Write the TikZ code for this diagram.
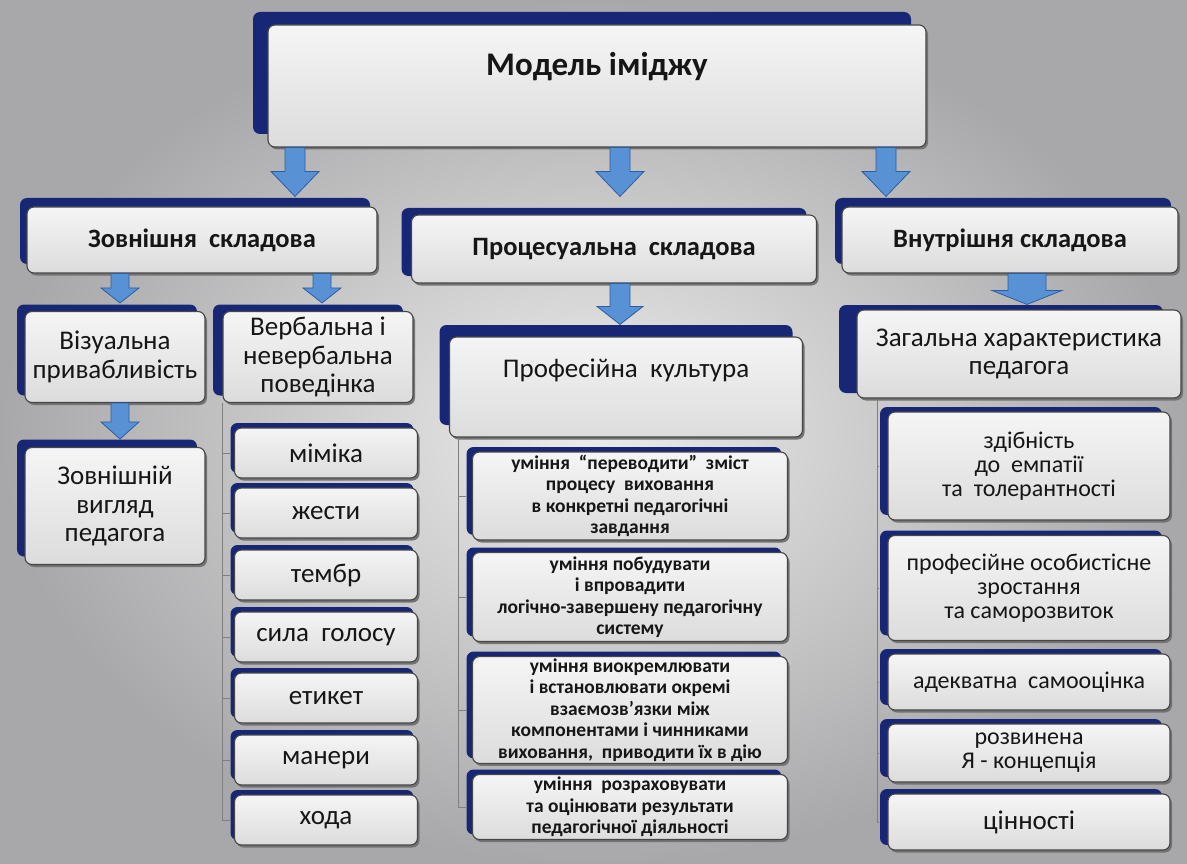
\documentclass[tikz,border=0pt]{standalone}
\usepackage{fontspec}
\setmainfont{Carlito}
\usetikzlibrary{calc,shadows}
\definecolor{navy}{RGB}{24,38,118}
\definecolor{boxtop}{RGB}{245,245,245}
\definecolor{boxbot}{RGB}{220,220,220}
\definecolor{boxline}{RGB}{70,70,70}
\definecolor{arrfill}{RGB}{88,146,212}
\definecolor{arrline}{RGB}{46,92,160}
\definecolor{bgin}{RGB}{236,236,236}
\definecolor{bgout}{RGB}{168,168,170}
\definecolor{txt}{RGB}{22,22,22}
\tikzset{
  bx/.style={draw=boxline, line width=1.1pt, rounded corners=7pt,
    top color=boxtop, bottom color=boxbot, align=center, inner sep=2pt, text=txt,
    general shadow={fill=black!55, shadow xshift=2pt, shadow yshift=-2.5pt}},
  nv/.style 2 args={general shadow={fill=navy, shadow xshift=-#1pt, shadow yshift=#2pt}},
  arr/.style={fill=arrfill, draw=arrline, line width=0.8pt, line join=miter},
  barrow/.style n args={3}{to path={let \p1=(\tikztostart), \p2=(\tikztotarget) in
    (\x1-#1,\y1) -- (\x1+#1,\y1) -- (\x1+#1,\y2+#3) -- (\x1+#2,\y2+#3) -- (\x1,\y2)
    -- (\x1-#2,\y2+#3) -- (\x1-#1,\y2+#3) -- cycle}},
  brk/.style={draw=black!50, line width=0.7pt},
  hdr/.style={font=\fontsize{26.5}{30}\selectfont\bfseries},
  mid/.style={font=\fontsize{27}{28.5}\selectfont},
  item/.style={bx, nv={4}{5}, minimum width=183pt, minimum height=50pt,
    font=\fontsize{27}{30}\selectfont},
  citem/.style={bx, nv={6}{5}, minimum width=315pt,
    font=\fontsize{19.5}{21.5}\selectfont\bfseries},
  ritem/.style={bx, nv={8}{5}, minimum width=282pt,
    font=\fontsize{24}{24}\selectfont},
}
\begin{document}
\begin{tikzpicture}[x=1pt,y=-1pt]
\useasboundingbox (0,0) rectangle (1187,864);
\fill[inner color=bgin, outer color=bgout] (0,0) rectangle (1187,864);

% top
\node[bx, nv={15}{13}, minimum width=658pt, minimum height=122pt,
  font=\fontsize{33}{38}\selectfont\bfseries, text height=22pt, text depth=42pt]
  (top) at (597,86) {Модель іміджу};

% row 2
\node[bx, nv={7}{9}, hdr, minimum width=350pt, minimum height=66pt] (zov) at (202,240) {Зовнішня\ \ складова};
\node[bx, nv={10}{7}, hdr, minimum width=405pt, minimum height=68pt] (proc) at (614,249) {Процесуальна\ \ складова};
\node[bx, nv={7}{9}, hdr, minimum width=336pt, minimum height=66pt] (vnut) at (1010,240) {Внутрішня складова};

% row 3
\node[bx, nv={8}{7}, mid, minimum width=180pt, minimum height=91pt] (viz) at (115,357) {Візуальна\\привабливість};
\node[bx, nv={10}{7}, mid, minimum width=190pt, minimum height=91pt] (verb) at (318,357) {Вербальна і\\невербальна\\поведінка};
\node[bx, nv={10}{12}, mid, minimum width=353pt, minimum height=100pt,
  text height=17pt, text depth=36pt] (prof) at (626,387) {Професійна\ \ культура};
\node[bx, nv={18}{5}, mid, minimum width=324pt, minimum height=88pt] (zag) at (1019,354) {Загальна характеристика\\педагога};

\node[bx, nv={8}{8}, mid, minimum width=180pt, minimum height=117pt] (zovn) at (115,506) {Зовнішній\\вигляд\\педагога};

% left list
\node[item] (mim) at (326,453) {міміка};
\node[item] (zhe) at (326,513) {жести};
\node[item] (tem) at (326,575) {тембр};
\node[item] (syl) at (326,637) {сила\ \ голосу};
\node[item] (ety) at (326,698) {етикет};
\node[item] (man) at (326,760) {манери};
\node[item] (hod) at (326,820) {хода};

% middle list
\node[citem, minimum height=88pt] (c1) at (630,496) {уміння\ \ “переводити”\ \ зміст\\процесу\ \ виховання\\в конкретні педагогічні\\завдання};
\node[citem, minimum height=89pt] (c2) at (630,597) {уміння побудувати\\і впровадити\\логічно-завершену педагогічну\\систему};
\node[citem, minimum height=106pt] (c3) at (630,710) {уміння виокремлювати\\і встановлювати окремі\\взаємозв’язки між\\компонентами і чинниками\\виховання,\ \ приводити їх в дію};
\node[citem, minimum height=65pt] (c4) at (630,807) {уміння\ \ розраховувати\\та оцінювати результати\\педагогічної діяльності};

% right list
\node[ritem, minimum height=108pt] (r1) at (1029,466) {здібність\\до\ \ емпатії\\та\ \ толерантності};
\node[ritem, minimum height=105pt] (r2) at (1029,588) {професійне особистісне\\зростання\\та саморозвиток};
\node[ritem, minimum height=56pt] (r3) at (1029,682) {адекватна\ \ самооцінка};
\node[ritem, minimum height=58pt] (r4) at (1029,753) {розвинена\\Я - концепція};
\node[ritem, minimum height=56pt, font=\fontsize{27}{28}\selectfont] (r5) at (1029,822) {цінності};

% arrow columns
\coordinate (xa) at (295,0);
\coordinate (xb) at (620,0);
\coordinate (xc) at (886,0);
\coordinate (xd) at (120,0);
\coordinate (xe) at (322,0);
\coordinate (xf) at (1027,0);

\draw[arr] (top.south -| xa) to[barrow={10pt}{24pt}{25pt}] ($(zov.north -| xa)+(0,-10)$);
\draw[arr] (top.south -| xb) to[barrow={10pt}{24pt}{25pt}] ($(proc.north -| xb)+(0,-18)$);
\draw[arr] (top.south -| xc) to[barrow={10pt}{24pt}{25pt}] ($(vnut.north -| xc)+(0,-10)$);
\draw[arr] (zov.south -| xd) to[barrow={9pt}{19pt}{15pt}] ($(viz.north -| xd)+(0,-8)$);
\draw[arr] (zov.south -| xe) to[barrow={9pt}{19pt}{15pt}] ($(verb.north -| xe)+(0,-8)$);
\draw[arr] (proc.south -| xb) to[barrow={10pt}{23pt}{18pt}] ($(prof.north -| xb)+(0,-12)$);
\draw[arr] (vnut.south -| xf) to[barrow={19pt}{35pt}{14pt}] ($(zag.north -| xf)+(0,-5)$);
\draw[arr] (viz.south -| xd) to[barrow={9pt}{19pt}{17pt}] ($(zovn.north -| xd)+(0,-8)$);

% brackets
\coordinate (bl) at (222,0);
\coordinate (bm) at (458,0);
\coordinate (br) at (877,0);
\draw[brk] (verb.south -| bl) -- (bl |- hod.west);
\foreach \n in {mim,zhe,tem,syl,ety,man,hod}{\draw[brk] (bl |- \n.west) -- ($(\n.west)+(-4,0)$);}
\draw[brk] (prof.south -| bm) -- (bm |- c4.west);
\foreach \n in {c1,c2,c3,c4}{\draw[brk] (bm |- \n.west) -- ($(\n.west)+(-6,0)$);}
\draw[brk] (zag.south -| br) -- (br |- r5.west);
\foreach \n in {r1,r2,r3,r4,r5}{\draw[brk] (br |- \n.west) -- ($(\n.west)+(-8,0)$);}
\end{tikzpicture}
\end{document}
